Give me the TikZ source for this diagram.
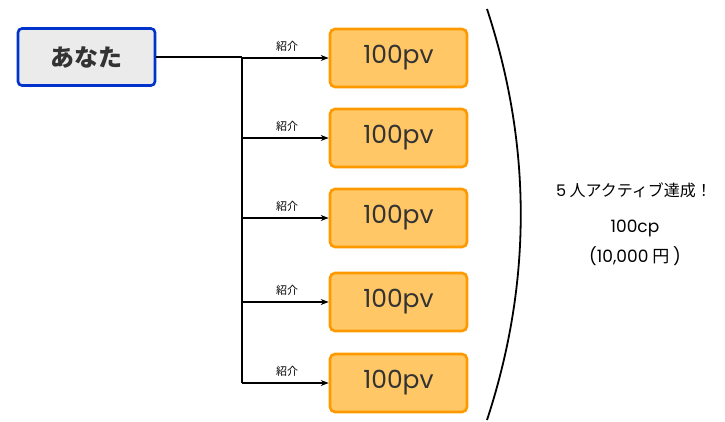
\documentclass[tikz,border=0pt]{standalone}
\usepackage{fontspec}
\setmainfont{Noto Sans CJK JP}
\newfontfamily\latin{Poppins}
\usetikzlibrary{arrows.meta}
\definecolor{you}{HTML}{0033CC}
\definecolor{youfill}{HTML}{EBEBEB}
\definecolor{pvfill}{HTML}{FFC766}
\definecolor{pvdraw}{HTML}{FF9900}
\definecolor{txt}{HTML}{333333}
\begin{document}
\begin{tikzpicture}[x=1pt,y=-1pt,
  youbox/.style={draw=you,fill=youfill,line width=2.6pt,rounded corners=4pt,minimum width=137pt,minimum height=57pt,inner sep=0pt,text=txt,font=\fontsize{24}{26}\selectfont\bfseries},
  pvbox/.style={draw=pvdraw,fill=pvfill,line width=2.6pt,rounded corners=5pt,minimum width=137pt,minimum height=58pt,inner sep=0pt,text=txt,font=\latin\fontsize{25}{28}\selectfont},
  conn/.style={line width=1.1pt,draw=black},
  arr/.style={conn,-{Stealth[length=8pt,width=6pt]}},
  lbl/.style={font=\fontsize{11}{12}\selectfont,text=black,inner sep=0pt},
  rtxt/.style={font=\fontsize{16}{18}\selectfont,text=black,inner sep=0pt}]
\useasboundingbox (0,0) rectangle (725,422);
\node[youbox] (you) at (86.5,57) {あなた};
\node[pvbox] (p1) at (398.5,58) {100pv};
\node[pvbox] (p2) at (398.5,138) {100pv};
\node[pvbox] (p3) at (398.5,218) {100pv};
\node[pvbox] (p4) at (398.5,302) {100pv};
\node[pvbox] (p5) at (398.5,383) {100pv};
\coordinate (j1) at (242,58);
\coordinate (j5) at (242,383);
\draw[conn] (you.east) -- (you.east -| j1);
\draw[conn] (j1) -- (j5);
\foreach \i in {1,...,5}{
  \draw[arr] (j1 |- p\i.west) -- node[lbl,above=6pt,pos=0.52] {紹介} (p\i.west);
}
\coordinate (a1) at (487,9);
\coordinate (a2) at (487,420);
\draw[line width=1.8pt] (a1) .. controls (532,146) and (532,283) .. (a2);
\node[rtxt] (t1) at (634,190) {{\latin 5} 人アクティブ達成！};
\node[rtxt,font=\fontsize{17}{19}\selectfont] (t2) at (635,228) {\latin 100cp};
\node[rtxt,font=\fontsize{17}{19}\selectfont] (t3) at (635,256) {{\latin (10,000} 円 {\latin )}};
\end{tikzpicture}
\end{document}
